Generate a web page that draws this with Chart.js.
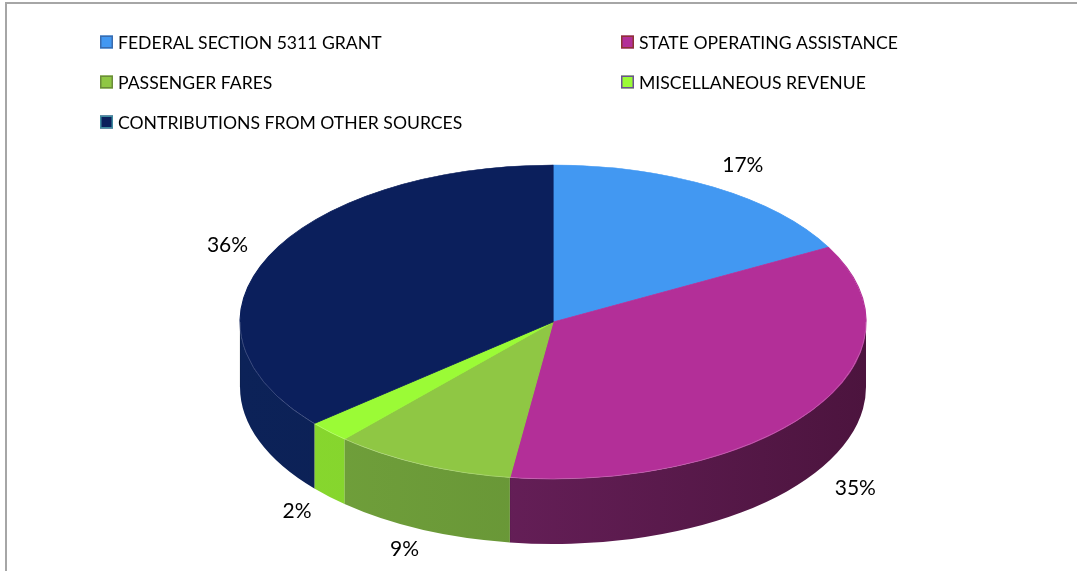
<!DOCTYPE html>
<html>
<head>
<meta charset="utf-8">
<script src="https://cdn.jsdelivr.net/npm/chart.js@4.4.1/dist/chart.umd.min.js"></script>
<style>
  html, body { margin: 0; padding: 0; background: #ffffff; }
  #wrap { position: relative; width: 1077px; height: 571px; }
  #frame { position: absolute; left: 5px; top: 2px; right: 0; bottom: 0;
           border-left: 2px solid #a6a6a6; border-top: 2px solid #a6a6a6; }
  canvas { position: absolute; left: 0; top: 0; }
</style>
</head>
<body>
<div id="wrap">
  <div id="frame"></div>
  <canvas id="revenue-pie" width="1077" height="571"></canvas>
</div>
<script>
// Revenue sources (share of total)
const categories = [
    'FEDERAL SECTION 5311 GRANT',
    'STATE OPERATING ASSISTANCE',
    'PASSENGER FARES',
    'MISCELLANEOUS REVENUE',
    'CONTRIBUTIONS FROM OTHER SOURCES'
];
const shares = [17.1, 35.1, 9.4, 2.2, 36.2];

// Colours
const topColors = ['#4298f2', '#b32f98', '#8fc744', '#9bfb36', '#0b1f5c'];
const wallLight = ['#2f6fb8', '#762669', '#72a23c', '#88d82e', '#0c2258'];
const wallDark  = ['#245a98', '#4c143e', '#5e8a31', '#7cc82a', '#0a1c4e'];
const legendBorders = ['#3a6cae', '#8e3434', '#6b8c3a', '#6b4f94', '#3f8b9f'];

// Ellipse geometry of the tilted pie
const CX = 553, CY = 322, RX = 313, RY = 157, DEPTH = 65;

const pie3d = {
    id: 'pie3d',
    beforeDatasetsDraw(chart) {
        const ctx = chart.ctx;
        const arcs = chart.getDatasetMeta(0).data;

        // side walls, only the front half is visible
        arcs.forEach((arc, i) => {
            const a = Math.max(arc.startAngle, 0);
            const b = Math.min(arc.endAngle, Math.PI);
            if (a >= b) return;
            const grad = ctx.createLinearGradient(CX - RX, 0, CX + RX, 0);
            grad.addColorStop(0, wallLight[i]);
            grad.addColorStop(1, wallDark[i]);
            ctx.beginPath();
            ctx.ellipse(CX, CY, RX, RY, 0, a, b, false);
            ctx.ellipse(CX, CY + DEPTH, RX, RY, 0, b, a, true);
            ctx.closePath();
            ctx.fillStyle = grad;
            ctx.fill();
            // thin edge between neighbouring walls
            ctx.strokeStyle = 'rgba(0,0,0,0.12)';
            ctx.lineWidth = 1;
            ctx.beginPath();
            ctx.moveTo(CX + RX * Math.cos(b), CY + RY * Math.sin(b));
            ctx.lineTo(CX + RX * Math.cos(b), CY + RY * Math.sin(b) + DEPTH);
            ctx.stroke();
        });

        // squash the library's round pie into the top face
        const first = arcs[0];
        const R = first.outerRadius;
        ctx.save();
        ctx.translate(CX, CY);
        ctx.scale(RX / R, RY / R);
        ctx.translate(-first.x, -first.y);
    },
    afterDatasetsDraw(chart) {
        const ctx = chart.ctx;
        ctx.restore();

        const arcs = chart.getDatasetMeta(0).data;
        const total = shares.reduce((s, v) => s + v, 0);

        // soft rim on the front edge of the top face
        ctx.save();
        ctx.strokeStyle = 'rgba(255,255,255,0.18)';
        ctx.lineWidth = 1;
        ctx.beginPath();
        ctx.ellipse(CX, CY, RX, RY, 0, 0, Math.PI, false);
        ctx.stroke();

        // percentage labels
        ctx.font = '21px Lato, "Open Sans", sans-serif';
        ctx.fillStyle = '#000000';
        ctx.textAlign = 'center';
        ctx.textBaseline = 'middle';
        arcs.forEach((arc, i) => {
            const mid = (arc.startAngle + arc.endAngle) / 2;
            const k = 1.16;
            const x = CX + k * RX * Math.cos(mid) + 4;
            let y = CY + k * RY * Math.sin(mid);
            if (Math.sin(mid) > 0) y += DEPTH - 3;
            ctx.fillText(Math.round(shares[i] / total * 100) + '%', x, y);
        });
        ctx.restore();
    }
};

// Two column legend like the original
const gridLegend = {
    id: 'gridLegend',
    afterDraw(chart) {
        const ctx = chart.ctx;
        const colX = [100, 621];
        const rowY = [42, 82, 122];
        ctx.save();
        ctx.font = '17.6px Lato, "Open Sans", sans-serif';
        ctx.textAlign = 'left';
        ctx.textBaseline = 'middle';
        categories.forEach((label, i) => {
            const x = colX[i % 2];
            const y = rowY[Math.floor(i / 2)];
            ctx.fillStyle = topColors[i];
            ctx.fillRect(x, y - 6.5, 13, 13);
            ctx.strokeStyle = legendBorders[i];
            ctx.lineWidth = 1.5;
            ctx.strokeRect(x + 0.75, y - 5.75, 11.5, 11.5);
            ctx.fillStyle = '#000000';
            ctx.fillText(label, x + 18, y + 1);
        });
        ctx.restore();
    }
};

new Chart(document.getElementById('revenue-pie'), {
    type: 'pie',
    data: {
        labels: categories,
        datasets: [{
            data: shares,
            backgroundColor: topColors,
            borderColor: topColors,
            borderWidth: 1
        }]
    },
    options: {
        responsive: false,
        animation: false,
        events: [],
        layout: { padding: 20 },
        plugins: {
            legend: { display: false },
            tooltip: { enabled: false }
        }
    },
    plugins: [pie3d, gridLegend]
});
</script>
</body>
</html>
